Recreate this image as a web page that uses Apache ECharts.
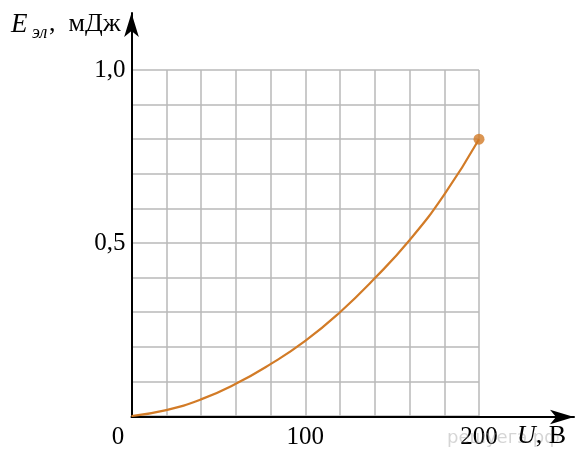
<!DOCTYPE html>
<html lang="ru">
<head>
<meta charset="UTF-8">
<title>Энергия конденсатора</title>
<script src="https://cdn.jsdelivr.net/npm/echarts@6/dist/echarts.min.js"></script>
<style>
  html, body { margin: 0; padding: 0; background: #fff; }
  #chart { width: 576px; height: 450px; }
</style>
</head>
<body>
<div id="chart"></div>
<script>
// напряжение U, В
var voltage = [0, 20, 40, 60, 80, 100, 120, 140, 160, 180, 200];
// энергия E, мДж
var energy = [0, 0.017, 0.048, 0.093, 0.15, 0.217, 0.3, 0.398, 0.508, 0.64, 0.8];
var xLabels = { 0: '{z|0}', 100: '100', 200: '200' };
var yLabels = { 0.5: '0,5', 1: '1,0' };

var serif = 'Liberation Serif';
var orange = '#d27b27';

var chart = echarts.init(document.getElementById('chart'));
var points = voltage.map(function (u, i) { return [u, energy[i]]; });
var last = points[points.length - 1];

chart.setOption({
    animation: false,
    grid: [
        // сетка с данными
        { left: 131.5, right: 97, top: 70, bottom: 33 },
        // оси со стрелками
        { left: 131.5, right: 2, top: 13, bottom: 33 }
    ],
    xAxis: [{
        gridIndex: 0, type: 'value', min: 0, max: 200, interval: 20,
        axisLine: { show: false }, axisTick: { show: false },
        splitLine: { show: true, lineStyle: { color: '#b8b8b8', width: 1.5 } },
        axisLabel: {
            margin: 9, color: '#000', fontFamily: serif, fontSize: 25,
            showMinLabel: true, showMaxLabel: true,
            formatter: function (v) { return xLabels[v] || ''; },
            rich: { z: { fontFamily: serif, fontSize: 25, color: '#000', padding: [0, 27, 0, 0] } }
        }
    }, {
        gridIndex: 1, type: 'value', min: 0, max: 1,
        axisLine: { show: true, symbol: ['none', 'arrow'], symbolSize: [11, 24],
            lineStyle: { color: '#000', width: 2 } },
        axisTick: { show: false }, axisLabel: { show: false }, splitLine: { show: false }
    }],
    yAxis: [{
        gridIndex: 0, type: 'value', min: 0, max: 1, interval: 0.1,
        axisLine: { show: false }, axisTick: { show: false },
        splitLine: { show: true, lineStyle: { color: '#b8b8b8', width: 1.5 } },
        axisLabel: {
            margin: 6, color: '#000', fontFamily: serif, fontSize: 25,
            formatter: function (v) { return yLabels[Math.round(v * 10) / 10] || ''; }
        }
    }, {
        gridIndex: 1, type: 'value', min: 0, max: 1,
        axisLine: { show: true, symbol: ['none', 'arrow'], symbolSize: [11, 24],
            lineStyle: { color: '#000', width: 2 } },
        axisTick: { show: false }, axisLabel: { show: false }, splitLine: { show: false }
    }],
    series: [{
        type: 'line', xAxisIndex: 0, yAxisIndex: 0,
        data: points, smooth: 0.5, showSymbol: false,
        lineStyle: { color: orange, width: 2.2 }, z: 5
    }, {
        type: 'scatter', xAxisIndex: 0, yAxisIndex: 0,
        data: [last], symbol: 'circle', symbolSize: 11,
        itemStyle: { color: orange }, z: 6
    }],
    graphic: [
        { type: 'text', left: 447, top: 429, z: 1,
          style: { text: 'решуегэ.рф', fill: 'rgba(150,150,150,0.4)', font: '18px "DejaVu Sans"' } },
        { type: 'text', left: 11, top: 11,
          style: { text: 'E', fill: '#000', font: 'italic 27px "Liberation Serif"' } },
        { type: 'text', left: 32, top: 24,
          style: { text: 'эл', fill: '#000', font: 'italic 18px "Liberation Serif"' } },
        { type: 'text', left: 49, top: 11,
          style: { text: ',  мДж', fill: '#000', font: '26px "Liberation Serif"' } },
        { type: 'text', left: 517, top: 423, z: 10,
          style: { text: '{i|U}{r|, В}', rich: {
              i: { fill: '#000', font: 'italic 26px "Liberation Serif"' },
              r: { fill: '#000', font: '26px "Liberation Serif"' } } } }
    ]
});
</script>
</body>
</html>
